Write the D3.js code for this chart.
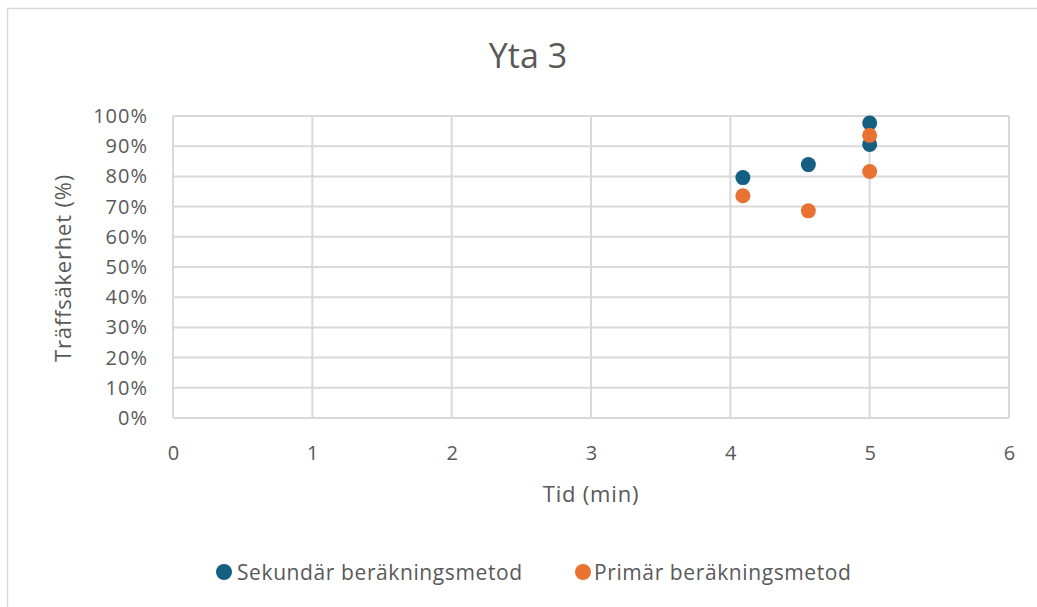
<!DOCTYPE html>
<html>
<head>
<meta charset="utf-8">
<script src="https://cdn.jsdelivr.net/npm/d3@7"></script>
<style>
  html, body { margin: 0; padding: 0; background: #fff; }
  svg { display: block; }
  text { font-family: "Open Sans", "Liberation Sans", sans-serif; fill: #595959; }
</style>
</head>
<body>
<svg id="chart" width="1037" height="607"></svg>
<script>
// Series: time (min) and hit rate (%)
const secondaryTime = [4.09, 4.56, 5.0, 5.0];
const secondaryRate = [79.6, 83.9, 97.7, 90.6];
const primaryTime = [4.09, 4.56, 5.0, 5.0];
const primaryRate = [73.6, 68.6, 93.6, 81.6];

const seriesNames = ["Sekundär beräkningsmetod", "Primär beräkningsmetod"];
const seriesColors = ["#156082", "#E97132"];
const xTicks = [0, 1, 2, 3, 4, 5, 6];
const yTicks = [0, 10, 20, 30, 40, 50, 60, 70, 80, 90, 100];
const titleText = "Yta 3";
const xTitle = "Tid (min)";
const yTitle = "Träffsäkerhet (%)";

const svg = d3.select("#chart");

// chart area border
svg.append("rect")
  .attr("x", 7.5).attr("y", 8.5)
  .attr("width", 1040).attr("height", 610)
  .attr("fill", "#fff").attr("stroke", "#D9D9D9").attr("stroke-width", 1.5);

const plot = { left: 173, right: 1009, top: 116, bottom: 418 };

const x = d3.scaleLinear().domain([0, 6]).range([plot.left, plot.right]);
const y = d3.scaleLinear().domain([0, 100]).range([plot.bottom, plot.top]);

// gridlines
const grid = svg.append("g");
grid.selectAll("line.h").data(yTicks).join("line")
  .attr("x1", plot.left).attr("x2", plot.right)
  .attr("y1", d => y(d)).attr("y2", d => y(d))
  .attr("stroke", "#D9D9D9").attr("stroke-width", 2);
grid.selectAll("line.v").data(xTicks).join("line")
  .attr("y1", plot.top).attr("y2", plot.bottom)
  .attr("x1", d => x(d)).attr("x2", d => x(d))
  .attr("stroke", "#D9D9D9").attr("stroke-width", 2);

// axes (labels only; lines come from the grid)
const yAxis = d3.axisLeft(y).tickValues(yTicks).tickFormat(d => d + "%").tickSize(0).tickPadding(25);
const gy = svg.append("g").attr("transform", `translate(${plot.left},0)`).call(yAxis);
gy.select(".domain").remove();
gy.selectAll("text").attr("font-size", 20).attr("letter-spacing", 1).attr("fill", "#595959")
  .attr("font-family", '"Open Sans", sans-serif');

const xAxis = d3.axisBottom(x).tickValues(xTicks).tickFormat(d3.format("d")).tickSize(0).tickPadding(28);
const gx = svg.append("g").attr("transform", `translate(0,${plot.bottom})`).call(xAxis);
gx.select(".domain").remove();
gx.selectAll("text").attr("font-size", 20).attr("fill", "#595959")
  .attr("font-family", '"Open Sans", sans-serif');

// title
svg.append("text").attr("x", 528).attr("y", 68).attr("text-anchor", "middle")
  .attr("font-size", 34).text(titleText);

// axis titles
svg.append("text").attr("x", 591).attr("y", 502).attr("text-anchor", "middle")
  .attr("font-size", 22).attr("letter-spacing", 0.8).text(xTitle);
svg.append("text").attr("transform", "translate(71,268) rotate(-90)")
  .attr("text-anchor", "middle").attr("font-size", 22).attr("letter-spacing", 0.8).text(yTitle);

// points
const series = [
  secondaryTime.map((t, i) => ({ t, v: secondaryRate[i] })),
  primaryTime.map((t, i) => ({ t, v: primaryRate[i] }))
];
series.forEach((pts, si) => {
  svg.append("g").selectAll("circle").data(pts).join("circle")
    .attr("cx", d => x(d.t)).attr("cy", d => y(d.v)).attr("r", 7.5)
    .attr("fill", seriesColors[si]);
});

// legend
const legendMarkX = [224, 583];
const legendTextX = [237, 594];
seriesNames.forEach((name, i) => {
  svg.append("circle").attr("cx", legendMarkX[i]).attr("cy", 572).attr("r", 8)
    .attr("fill", seriesColors[i]);
  svg.append("text").attr("x", legendTextX[i]).attr("y", 580)
    .attr("font-size", 21).attr("letter-spacing", 0.6).text(name);
});
</script>
</body>
</html>
